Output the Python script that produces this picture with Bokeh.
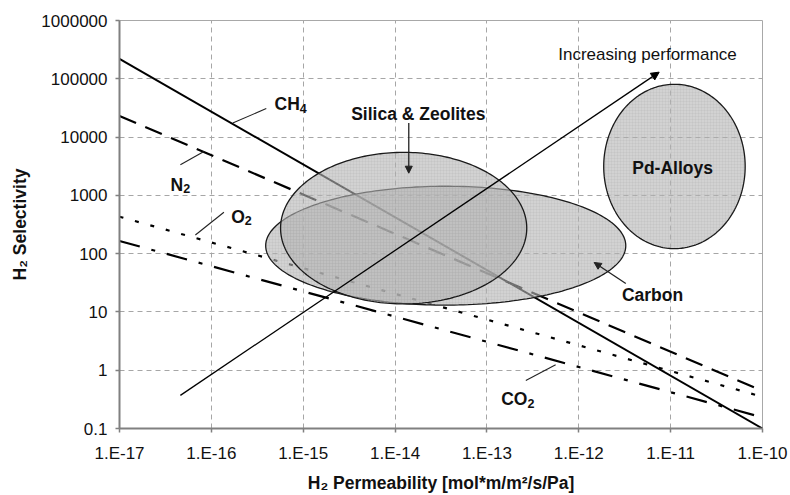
import numpy as np
from bokeh.plotting import figure
from bokeh.models import (Range1d, FixedTicker, CustomJSTickFormatter, Label,
                          Arrow, NormalHead)
from bokeh.embed import file_html
from bokeh.resources import INLINE

# ---- axis ticks -------------------------------------------------------------
x_ticks = [1e-17, 1e-16, 1e-15, 1e-14, 1e-13, 1e-12, 1e-11, 1e-10]
x_tick_labels = ["1.E-17", "1.E-16", "1.E-15", "1.E-14", "1.E-13", "1.E-12", "1.E-11", "1.E-10"]
y_ticks = [0.1, 1, 10, 100, 1000, 10000, 100000, 1000000]
y_tick_labels = ["0.1", "1", "10", "100", "1000", "10000", "100000", "1000000"]

# ---- upper bounds (selectivity vs H2 permeability) ---------------------------
perm_ends = [1e-17, 1e-10]
sel_ch4 = [2.2e5, 0.1]
sel_n2 = [2.3e4, 0.44]
sel_o2 = [430, 0.35]
sel_co2 = [165, 0.155]

# ---- material regions: centre and half-extent in decades --------------------
region_names = ["Carbon", "Silica & Zeolites", "Pd-Alloys"]
region_cx = [3.56e-14, 1.24e-14, 1.10e-11]
region_cy = [137, 274, 3130]
region_half_w_dec = [1.96, 1.34, 0.77]
region_half_h_dec = [1.02, 1.30, 1.41]

# ---- "Increasing performance" arrow -----------------------------------------
perf_start = (4.6e-17, 0.37)
perf_end = (7.5e-12, 1.3e5)

FONT = "Liberation Sans"
BIG = 17.5      # label font size, px
SMALL = 12.5    # subscript font size, px

p = figure(width=790, height=495, x_axis_type="log", y_axis_type="log",
           x_range=Range1d(1e-17, 1e-10), y_range=Range1d(0.1, 1e6),
           output_backend="svg", toolbar_location=None,
           min_border_left=119, min_border_right=28,
           min_border_top=20, min_border_bottom=67)
p.background_fill_color = "white"
p.border_fill_color = "white"
p.outline_line_color = "#a8a8a8"
p.outline_line_width = 1

fmt_code = """
const k = tick_vals.findIndex(t => Math.abs(Math.log10(t) - Math.log10(tick)) < 1e-6);
return k >= 0 ? tick_text[k] : "";
"""
p.xaxis.ticker = FixedTicker(ticks=x_ticks)
p.yaxis.ticker = FixedTicker(ticks=y_ticks)
p.xaxis.formatter = CustomJSTickFormatter(args=dict(tick_vals=x_ticks, tick_text=x_tick_labels), code=fmt_code)
p.yaxis.formatter = CustomJSTickFormatter(args=dict(tick_vals=y_ticks, tick_text=y_tick_labels), code=fmt_code)

for ax in (p.xaxis[0], p.yaxis[0]):
    ax.axis_line_color = "#808080"
    ax.axis_line_width = 2
    ax.major_tick_line_color = "#808080"
    ax.major_tick_line_width = 1.5
    ax.major_tick_in = 0
    ax.major_tick_out = 4
    ax.minor_tick_line_color = None
    ax.major_label_text_font = FONT
    ax.major_label_text_font_size = "17px"
    ax.major_label_text_color = "#111111"
    ax.axis_label_text_font = FONT
    ax.axis_label_text_font_size = f"{BIG}px"
    ax.axis_label_text_font_style = "bold"
    ax.axis_label_text_color = "#111111"

p.xaxis.major_label_standoff = 11
p.yaxis.major_label_standoff = 8
p.xaxis.axis_label = "H\u2082 Permeability [mol*m/m\u00b2/s/Pa]"
p.yaxis.axis_label = "H\u2082 Selectivity"
p.xaxis.axis_label_standoff = 7
p.yaxis.axis_label_standoff = 8

for g in (p.xgrid[0], p.ygrid[0]):
    g.grid_line_color = "#a6a6a6"
    g.grid_line_dash = "5 4"
    g.grid_line_width = 1

# upper-bound lines
p.line(perm_ends, sel_ch4, line_color="black", line_width=2)
p.line(perm_ends, sel_n2, line_color="black", line_width=2.2, line_dash="18 10")
p.line(perm_ends, sel_o2, line_color="black", line_width=2.2, line_dash="4 12")
p.line(perm_ends, sel_co2, line_color="black", line_width=2.2, line_dash="21 12 4 12")

# material regions as ellipses in log-log space
t = np.linspace(0, 2 * np.pi, 240)
for cx, cy, hw, hh in zip(region_cx, region_cy, region_half_w_dec, region_half_h_dec):
    ex = 10 ** (np.log10(cx) + hw * np.cos(t))
    ey = 10 ** (np.log10(cy) + hh * np.sin(t))
    p.patch(ex, ey, fill_color="#b4b4b4", fill_alpha=0.6,
            hatch_pattern="+", hatch_color="#9a9a9a", hatch_alpha=0.25,
            hatch_scale=3, hatch_weight=0.5,
            line_color="#1a1a1a", line_width=1.3)

# performance arrow
p.add_layout(Arrow(x_start=perf_start[0], y_start=perf_start[1],
                   x_end=perf_end[0], y_end=perf_end[1],
                   line_color="black", line_width=1.3,
                   end=NormalHead(size=8, fill_color="black", line_color="black")))

# leader lines for the gas labels
leaders = [
    ((3.96e-16, 3.08e4), (1.71e-16, 1.74e4)),   # CH4
    ((4.6e-17, 3350), (8.3e-17, 5675)),          # N2
    ((1.37e-16, 512), (6.7e-17, 209)),           # O2
    ((2.65e-13, 0.667), (5.6e-13, 1.24)),        # CO2
]
for a, b in leaders:
    p.line([a[0], b[0]], [a[1], b[1]], line_color="#222222", line_width=1.1)

# pointer arrows for the region labels
p.add_layout(Arrow(x_start=1.41e-14, y_start=1.74e4, x_end=1.41e-14, y_end=2400,
                   line_color="#222222", line_width=1.3,
                   end=NormalHead(size=7, fill_color="#222222", line_color="#222222")))
p.add_layout(Arrow(x_start=3.25e-12, y_start=30.7, x_end=1.47e-12, y_end=70.6,
                   line_color="#222222", line_width=1.3,
                   end=NormalHead(size=7, fill_color="#222222", line_color="#222222")))


def txt(x, y, text, size=BIG, bold=True, align="center", baseline="middle",
        dx=0, dy=0):
    p.add_layout(Label(x=x, y=y, text=text, text_font=FONT,
                       text_font_size=f"{size}px",
                       text_font_style="bold" if bold else "normal",
                       text_color="#111111", text_align=align,
                       text_baseline=baseline, x_offset=dx, y_offset=dy))


# Arial-bold advance widths (em) for the characters used in formula labels
ADV = {"C": 0.722, "H": 0.722, "N": 0.722, "O": 0.778, "2": 0.556, "4": 0.556}


def formula(x, y, main, sub):
    """Chemical formula centred on (x, y) with a lowered subscript."""
    wm = sum(ADV[c] for c in main) * BIG
    ws = sum(ADV[c] for c in sub) * SMALL
    dx = (wm - ws) / 2
    txt(x, y, main, align="right", baseline="alphabetic", dx=dx, dy=-6)
    txt(x, y, sub, size=SMALL, align="left", baseline="alphabetic", dx=dx, dy=-10)


formula(7.3e-16, 4.6e4, "CH", "4")
formula(4.6e-17, 1945, "N", "2")
formula(2.13e-16, 547, "O", "2")
formula(2.17e-13, 0.40, "CO", "2")

txt(1.79e-14, 2.46e4, region_names[1])
txt(1.05e-11, 2925, region_names[2])
txt(6.35e-12, 19.4, region_names[0])
txt(5.6e-12, 2.65e5, "Increasing performance", size=17, bold=False)

open("out.html", "w").write(file_html(p, INLINE))
